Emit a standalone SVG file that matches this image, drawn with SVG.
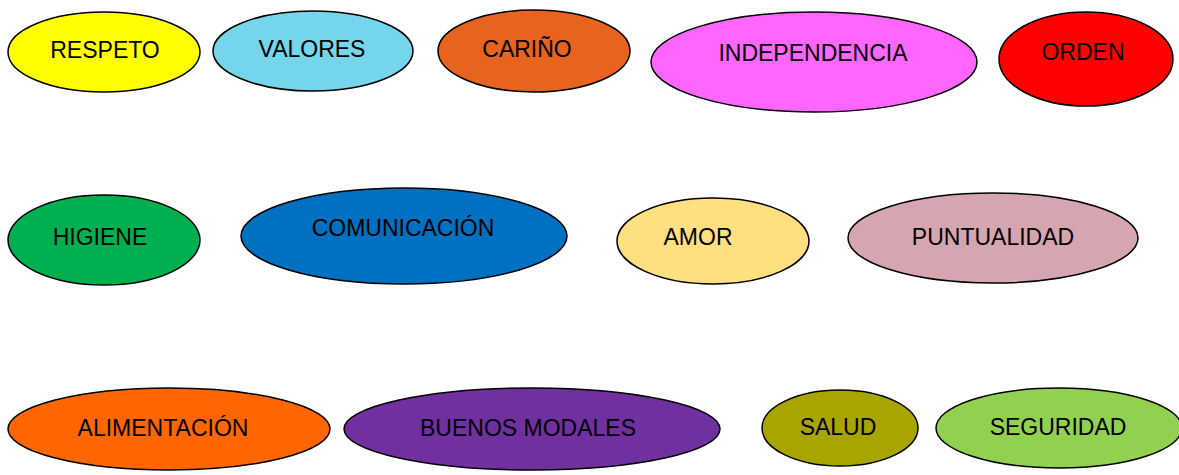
<svg xmlns="http://www.w3.org/2000/svg" width="1179" height="475" viewBox="0 0 1179 475">
<style>
.n ellipse{stroke:#000;stroke-width:1.5}
.n text{font-family:"Liberation Sans",Arial,sans-serif;font-size:23px;fill:#000;text-anchor:middle}
</style>
<rect width="1179" height="475" fill="#fff"/>
<g id="connectors"/>
<g id="respeto" class="n"><ellipse cx="104" cy="52" rx="96" ry="40" fill="#FFFF00"/><text x="105" y="58">RESPETO</text></g>
<g id="valores" class="n"><ellipse cx="313" cy="51" rx="100" ry="40" fill="#75D5EA"/><text x="312" y="57">VALORES</text></g>
<g id="carino" class="n"><ellipse cx="534" cy="51" rx="96" ry="41" fill="#E8641E"/><text x="527" y="57">CARIÑO</text></g>
<g id="independencia" class="n"><ellipse cx="814" cy="62" rx="163" ry="50" fill="#FF66FF"/><text x="813" y="61">INDEPENDENCIA</text></g>
<g id="orden" class="n"><ellipse cx="1086" cy="59" rx="87" ry="47" fill="#FF0000"/><text x="1083" y="60">ORDEN</text></g>
<g id="higiene" class="n"><ellipse cx="104" cy="240" rx="96" ry="45" fill="#00B050"/><text x="100" y="245">HIGIENE</text></g>
<g id="comunicacion" class="n"><ellipse cx="404" cy="236" rx="163" ry="48" fill="#0070C0"/><text x="403" y="236">COMUNICACIÓN</text></g>
<g id="amor" class="n"><ellipse cx="713" cy="241" rx="96" ry="43" fill="#FFDF80"/><text x="698" y="245">AMOR</text></g>
<g id="puntualidad" class="n"><ellipse cx="993" cy="238" rx="145" ry="45" fill="#D5A6B0"/><text x="993" y="245">PUNTUALIDAD</text></g>
<g id="alimentacion" class="n"><ellipse cx="169" cy="429" rx="161" ry="41" fill="#FF6600"/><text x="163" y="436">ALIMENTACIÓN</text></g>
<g id="buenos-modales" class="n"><ellipse cx="532" cy="429" rx="188" ry="41" fill="#7030A0"/><text x="528" y="436">BUENOS MODALES</text></g>
<g id="salud" class="n"><ellipse cx="840" cy="428" rx="78" ry="38" fill="#A9A500"/><text x="838" y="435">SALUD</text></g>
<g id="seguridad" class="n"><ellipse cx="1059" cy="428" rx="123" ry="40" fill="#92D050"/><text x="1058" y="435">SEGURIDAD</text></g>
</svg>
